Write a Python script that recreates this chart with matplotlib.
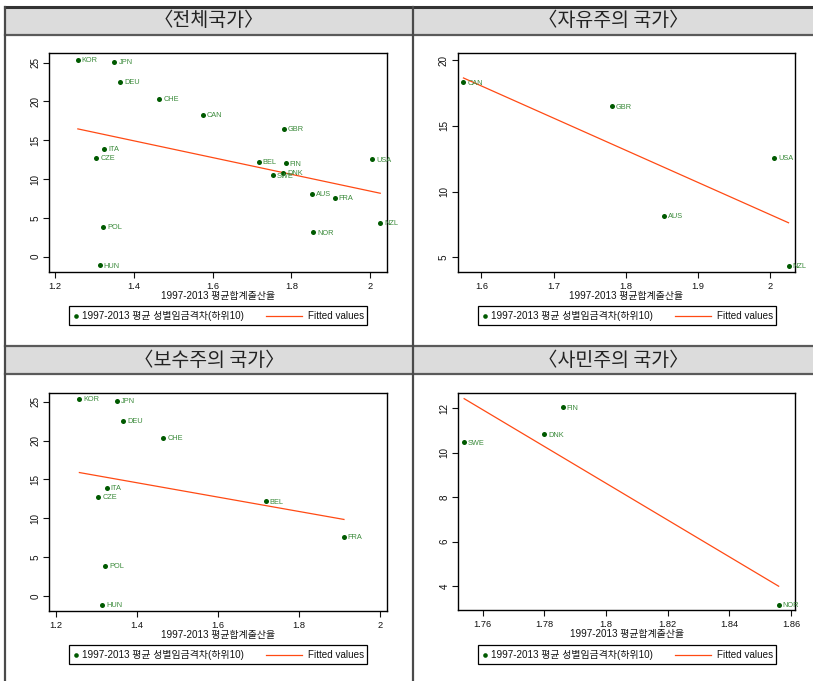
import numpy as np
import matplotlib.pyplot as plt
from matplotlib.patches import Rectangle
from matplotlib.ticker import FormatStrFormatter

plt.rcParams['font.family'] = ['Liberation Sans', 'Noto Sans CJK KR']

# 1997-2013 averages: total fertility rate (x) and gender wage gap, bottom decile (y)
countries = ['KOR', 'JPN', 'DEU', 'CHE', 'CAN', 'GBR', 'ITA', 'CZE', 'BEL', 'FIN',
             'DNK', 'SWE', 'USA', 'AUS', 'FRA', 'NZL', 'NOR', 'POL', 'HUN']
tfr = [1.258, 1.351, 1.366, 1.465, 1.575, 1.781, 1.325, 1.305, 1.718, 1.786,
       1.780, 1.754, 2.006, 1.853, 1.911, 2.026, 1.856, 1.322, 1.314]
wage_gap = [25.35, 25.13, 22.56, 20.37, 18.30, 16.48, 13.94, 12.78, 12.19, 12.05,
            10.83, 10.47, 12.55, 8.14, 7.59, 4.36, 3.14, 3.86, -1.12]

liberal = ['CAN', 'GBR', 'USA', 'AUS', 'NZL']
conservative = ['KOR', 'JPN', 'DEU', 'CHE', 'ITA', 'CZE', 'BEL', 'FRA', 'POL', 'HUN']
social_dem = ['FIN', 'DNK', 'SWE', 'NOR']

titles = ['〈전체국가〉', '〈자유주의 국가〉', '〈보수주의 국가〉', '〈사민주의 국가〉']
groups = [countries, liberal, conservative, social_dem]
xlabel = '1997-2013 평균합계출산율'
ylegend = '1997-2013 평균 성별임금격차(하위10)'
fitlegend = 'Fitted values'

xticks = [[1.2, 1.4, 1.6, 1.8, 2.0], [1.6, 1.7, 1.8, 1.9, 2.0],
          [1.2, 1.4, 1.6, 1.8, 2.0], [1.76, 1.78, 1.80, 1.82, 1.84, 1.86]]
yticks = [[0, 5, 10, 15, 20, 25], [5, 10, 15, 20],
          [0, 5, 10, 15, 20, 25], [4, 6, 8, 10, 12]]
xlims = [(1.1855, 2.0424), (1.567, 2.035), (1.183, 2.0165), (1.7521, 1.8613)]
ylims = [(-1.93, 26.21), (3.86, 20.51), (-1.89, 26.16), (2.92, 12.675)]

# plot frames and legend boxes in pixels (left, top, right, bottom)
frames = [(49.3, 53.3, 386.7, 271.7), (457.7, 53.3, 795, 272.3),
          (49, 392.7, 386.7, 610.7), (458.3, 393.3, 795, 610)]
keys = [(69, 306), (478, 306), (69, 645), (478, 645)]

W, H = 813, 681
DOT = '#005a00'
LABEL = '#3a8a3a'
FIT = '#ff4a14'
EDGE = '#4a4a4a'

fig = plt.figure(figsize=(W / 100, H / 100), dpi=100)

bg = fig.add_axes([0, 0, 1, 1], zorder=-1)
bg.set_xlim(0, W)
bg.set_ylim(H, 0)
bg.axis('off')

# table headers and borders
for top in (7, 346):
    bg.add_patch(Rectangle((5, top), W - 5, 28, facecolor='#dcdcdc', edgecolor='none'))
bg.plot([5, W], [7, 7], color='#333333', lw=2.2)
for y in (35, 346, 374):
    bg.plot([5, W], [y, y], color='#5a5a5a', lw=1.6)
for x in (5, 413):
    bg.plot([x, x], [7, H], color=EDGE, lw=1.6)
for i, t in enumerate(titles):
    cx = 209 if i % 2 == 0 else 613
    cy = 21 if i < 2 else 360
    bg.text(cx, cy, t, ha='center', va='center', fontsize=14,
            family=['Noto Sans CJK KR'], weight='light', color='#222222')

lookup = {c: (x, y) for c, x, y in zip(countries, tfr, wage_gap)}

for i, members in enumerate(groups):
    l, t, r, b = frames[i]
    ax = fig.add_axes([l / W, 1 - b / H, (r - l) / W, (b - t) / H])
    xs = np.array([lookup[c][0] for c in members])
    ys = np.array([lookup[c][1] for c in members])

    ax.scatter(xs, ys, s=13, color=DOT, zorder=3, linewidths=0)
    for c, x, y in zip(members, xs, ys):
        ax.annotate(c, (x, y), xytext=(2.8, -0.6), textcoords='offset points',
                    fontsize=5.3, color=LABEL, va='center', ha='left')

    slope, icept = np.polyfit(xs, ys, 1)
    xf = np.array([xs.min(), xs.max()])
    ax.plot(xf, icept + slope * xf, color=FIT, lw=0.9, zorder=2)

    ax.set_xlim(*xlims[i])
    ax.set_ylim(*ylims[i])
    ax.set_xticks(xticks[i])
    ax.set_yticks(yticks[i])
    ax.xaxis.set_major_formatter(FormatStrFormatter('%g'))
    ax.yaxis.set_major_formatter(FormatStrFormatter('%g'))
    ax.tick_params(axis='both', direction='out', length=4, width=0.8,
                   colors='#111111')
    ax.tick_params(axis='x', pad=3.2, labelsize=6.7)
    ax.tick_params(axis='y', pad=2.3, labelsize=7.1)
    for lab in ax.get_yticklabels():
        lab.set_rotation(90)
        lab.set_va('center')
    for sp in ax.spines.values():
        sp.set_linewidth(1.0)
        sp.set_color('black')

    # axis title sits about 24 px under the frame
    ax.set_xlabel(xlabel, fontsize=7.1, color='#111111', va='center')
    ax.xaxis.set_label_coords(0.5, -24 / (b - t))

    # legend box under each plot
    kx, ky = keys[i]
    bg.add_patch(Rectangle((kx, ky), 298, 19, fill=False, edgecolor='black', lw=0.9))
    bg.scatter([kx + 7], [ky + 9.5], s=11, color=DOT, linewidths=0)
    bg.text(kx + 13, ky + 10, ylegend, fontsize=7.1, va='center', ha='left', color='#111111')
    bg.plot([kx + 197, kx + 233], [ky + 9.5, ky + 9.5], color=FIT, lw=0.9)
    bg.text(kx + 239, ky + 10, fitlegend, fontsize=7.1, va='center', ha='left', color='#111111')

fig.savefig('out.png', dpi=100)
